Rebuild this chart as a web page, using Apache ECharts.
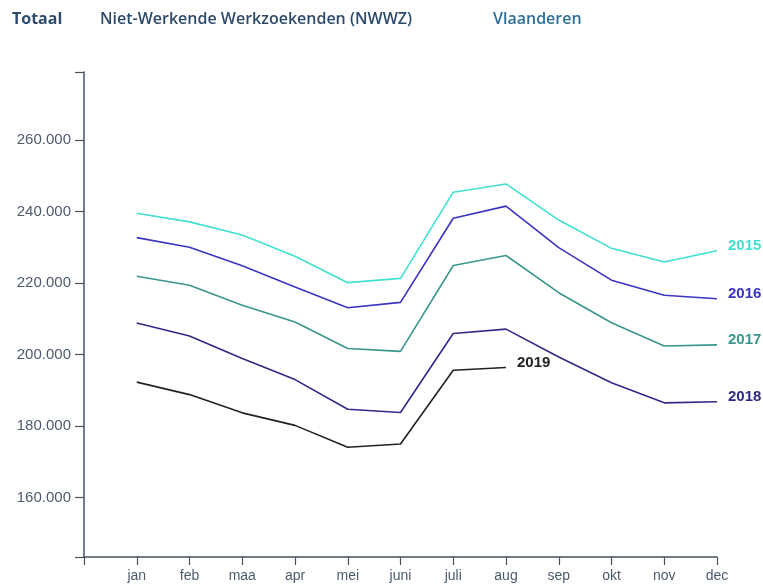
<!DOCTYPE html>
<html>
<head>
<meta charset="utf-8">
<script src="https://cdn.jsdelivr.net/npm/echarts@6/dist/echarts.min.js"></script>
<style>
html,body{margin:0;padding:0;background:#fff;}
#chart{width:763px;height:584px;}
</style>
</head>
<body>
<div id="chart"></div>
<script>
// Data
const months = ['jan','feb','maa','apr','mei','juni','juli','aug','sep','okt','nov','dec'];
const yTickValues = [160000, 180000, 200000, 220000, 240000, 260000];
const years = ['2015','2016','2017','2018','2019'];
const v2015 = [239500, 237100, 233400, 227500, 220100, 221300, 245400, 247700, 237600, 229700, 225900, 229000];
const v2016 = [232700, 230000, 224800, 218900, 213100, 214600, 238100, 241500, 229900, 220800, 216600, 215600];
const v2017 = [221900, 219400, 213800, 209100, 201700, 200900, 224900, 227700, 217300, 208900, 202400, 202700];
const v2018 = [208800, 205200, 198900, 193000, 184700, 183800, 205900, 207100, 199300, 192100, 186500, 186800];
const v2019 = [192300, 188800, 183700, 180200, 174100, 175000, 195600, 196400];
const seriesValues = [v2015, v2016, v2017, v2018, v2019];
const colors = ['#40e0d0', '#3b33c2', '#3a968c', '#2e2a86', '#222222'];
const headers = ['Totaal', 'Niet-Werkende Werkzoekenden (NWWZ)', 'Vlaanderen'];

const yMin = 143400, yMax = 279000;
const axisColor = '#46525f';
const labelColor = '#4d5a6e';

const chart = echarts.init(document.getElementById('chart'), null, {renderer: 'canvas'});

const series = seriesValues.map((vals, i) => ({
  name: years[i],
  type: 'line',
  data: vals.map((v, j) => [j + 1, v]),
  symbol: 'none',
  silent: true,
  lineStyle: {color: colors[i], width: 1.6},
  endLabel: {
    show: true,
    formatter: years[i],
    color: colors[i],
    fontFamily: 'Liberation Sans, Arial, sans-serif',
    fontWeight: 'bold',
    fontSize: 15,
    offset: [3, -5]
  }
}));

chart.setOption({
  animation: false,
  backgroundColor: '#fff',
  grid: {left: 84, right: 46, top: 72, bottom: 27, containLabel: false},
  graphic: [
    {type: 'text', left: 12, top: 11, style: {text: headers[0], fill: '#2d4a6c', font: 'bold 16px "Open Sans", sans-serif'}},
    {type: 'text', left: 100, top: 11, style: {text: headers[1], fill: '#2d4a6c', font: '600 16px "Open Sans", sans-serif'}},
    {type: 'text', left: 493, top: 11, style: {text: headers[2], fill: '#2f6f97', font: '600 16px "Open Sans", sans-serif'}}
  ],
  xAxis: {
    type: 'value',
    min: 0,
    max: 12,
    splitLine: {show: false},
    axisLine: {show: true, onZero: false, lineStyle: {color: axisColor, width: 1.5}},
    axisTick: {show: true, length: 8, lineStyle: {color: axisColor, width: 1.2},
      customValues: [0,1,2,3,4,5,6,7,8,9,10,11,12]},
    axisLabel: {
      customValues: [1,2,3,4,5,6,7,8,9,10,11,12],
      formatter: v => months[Math.round(v) - 1] || '',
      color: labelColor,
      fontFamily: 'Liberation Sans, Arial, sans-serif',
      fontSize: 14,
      margin: 12
    }
  },
  yAxis: {
    type: 'value',
    min: yMin,
    max: yMax,
    splitLine: {show: false},
    axisLine: {show: true, onZero: false, lineStyle: {color: axisColor, width: 1.5}},
    axisTick: {show: true, length: 9, lineStyle: {color: axisColor, width: 1.2},
      customValues: [yMin].concat(yTickValues, [yMax])},
    axisLabel: {
      customValues: yTickValues,
      formatter: v => (v / 1000).toFixed(0) + '.000',
      color: labelColor,
      fontFamily: 'Liberation Sans, Arial, sans-serif',
      fontSize: 15,
      margin: 13
    }
  },
  series: series
});
</script>
</body>
</html>
